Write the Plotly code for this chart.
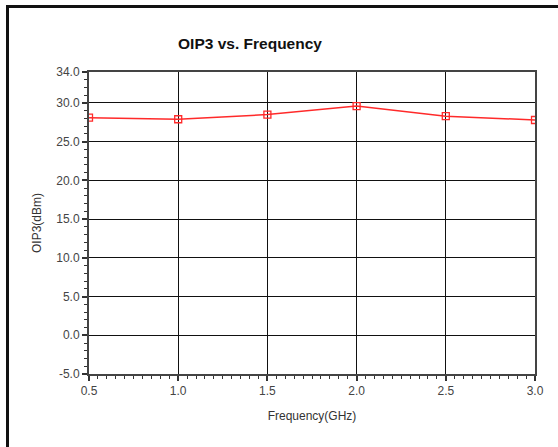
import plotly.graph_objects as go

# OIP3 measured across frequency
freq_ghz = [0.5, 1.0, 1.5, 2.0, 2.5, 3.0]
oip3_dbm = [28.1, 27.9, 28.5, 29.6, 28.3, 27.8]

y_ticks = [-5, 0, 5, 10, 15, 20, 25, 30, 34]
y_tick_text = ["-5.0", "0.0", "5.0", "10.0", "15.0", "20.0", "25.0", "30.0", "34.0"]
x_ticks = [0.5, 1.0, 1.5, 2.0, 2.5, 3.0]
x_tick_text = ["0.5", "1.0", "1.5", "2.0", "2.5", "3.0"]

W, H = 558, 447
L, R, T, B = 89, 23, 72, 73
pw, ph = W - L - R, H - T - B

def px(x):
    return (x - L) / pw

def py(y):
    return (H - B - y) / ph

font = "Liberation Sans, Arial, sans-serif"

fig = go.Figure()
fig.add_trace(go.Scatter(
    x=freq_ghz, y=oip3_dbm,
    mode="lines+markers",
    line=dict(color="#ff2a2a", width=1.5),
    marker=dict(symbol="square-open", size=7, color="#ff2a2a", line=dict(width=1.3)),
    showlegend=False,
))

axis_common = dict(
    showline=True, linecolor="#444444", linewidth=2, mirror=True,
    ticks="outside", ticklen=5, tickwidth=1.5, tickcolor="#333333",
    tickfont=dict(family=font, size=12, color="#444444"),
    zeroline=False,
)

fig.update_xaxes(
    range=[0.5, 3.0], tickvals=x_ticks, ticktext=x_tick_text,
    showgrid=True, gridcolor="#111111", gridwidth=1.2,
    title=dict(text="Frequency(GHz)", font=dict(family=font, size=12, color="#333333"), standoff=14),
    minor=dict(dtick=0.05, tick0=0.5, ticks="outside", ticklen=3, tickwidth=1.2,
               tickcolor="#333333", showgrid=False),
    **axis_common,
)
fig.update_yaxes(
    range=[-5, 34], tickvals=y_ticks, ticktext=y_tick_text,
    showgrid=True, gridcolor="#111111", gridwidth=1.2,
    title=dict(text="OIP3(dBm)", font=dict(family=font, size=12, color="#333333"), standoff=12),
    minor=dict(dtick=1, tick0=0, ticks="outside", ticklen=3, tickwidth=1.2,
               tickcolor="#333333", showgrid=False),
    **axis_common,
)

# outer frame: top and left edges
fig.add_shape(type="line", xref="paper", yref="paper",
              x0=px(6), x1=px(560), y0=py(6.5), y1=py(6.5),
              line=dict(color="#111111", width=3))
fig.add_shape(type="line", xref="paper", yref="paper",
              x0=px(7.5), x1=px(7.5), y0=py(5), y1=py(450),
              line=dict(color="#111111", width=3))

fig.update_layout(
    width=W, height=H,
    margin=dict(l=L, r=R, t=T, b=B),
    paper_bgcolor="white", plot_bgcolor="white",
    title=dict(text="<b>OIP3 vs. Frequency</b>", font=dict(family=font, size=15.5, color="#111111"),
               x=250 / W, xanchor="center", xref="container",
               y=1 - 44 / H, yanchor="middle", yref="container"),
)

fig.write_html("out.html")
